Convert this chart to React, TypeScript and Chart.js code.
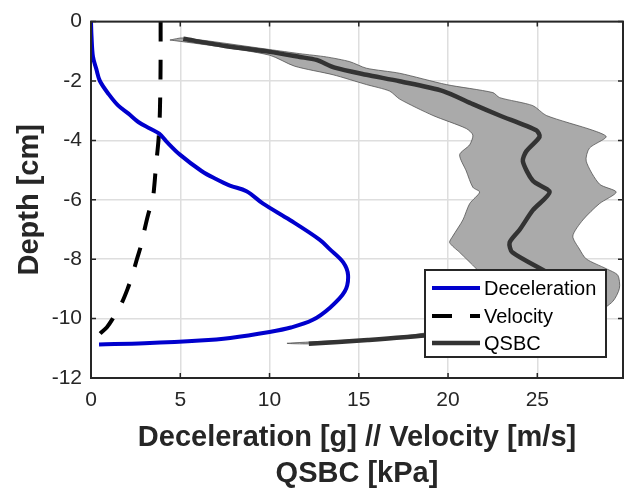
import React, { useEffect, useRef } from 'react';
import { Chart, registerables } from 'chart.js';

Chart.register(...registerables);

// ---- data (depth in cm, values on the shared x axis) ----
const decelDepth = [0, -0.5, -1.18, -1.6, -2.0, -2.45, -2.83, -3.1, -3.38, -3.6, -3.77, -4.04, -4.48, -5.03, -5.3, -5.52, -5.71, -6.13, -6.68, -7.34, -7.66, -8.1, -8.54, -9.09, -9.64, -10.05, -10.3, -10.45, -10.65, -10.74, -10.83, -10.87];
const decelValue = [0, 0.03, 0.11, 0.3, 0.5, 1.0, 1.53, 2.1, 2.65, 3.3, 3.82, 4.23, 4.98, 6.19, 7.0, 7.78, 8.71, 9.64, 11.14, 12.8, 13.37, 14.12, 14.4, 14.21, 13.37, 12.4, 11.2, 10.0, 7.8, 6.1, 3.0, 0.45];

const velDepth = [0, -1, -2, -3, -3.5, -4, -4.5, -5, -5.5, -6, -6.5, -7, -7.5, -8, -8.5, -9, -9.5, -10, -10.3, -10.5, -10.7, -10.85];
const velValue = [3.9, 3.9, 3.89, 3.86, 3.83, 3.78, 3.7, 3.62, 3.55, 3.45, 3.2, 3.0, 2.82, 2.57, 2.33, 2.05, 1.7, 1.22, 0.88, 0.52, 0.25, 0.0];

const qsbcDepth = [-0.58, -0.82, -1.02, -1.19, -1.29, -1.55, -1.79, -2.01, -2.34, -2.78, -3.16, -3.66, -3.88, -4.37, -4.7, -5.36, -5.74, -6.35, -7.01, -7.44, -7.77, -8.43, -8.9, -9.3, -9.7, -10.05, -10.35, -10.57, -10.72, -10.85];
const qsbcMean = [5.17, 7.5, 10.02, 11.7, 12.63, 13.65, 15.43, 17.29, 19.72, 21.39, 22.89, 24.94, 25.13, 24.38, 24.19, 24.75, 25.69, 24.75, 24.01, 23.45, 23.6, 25.5, 26.6, 26.8, 26.2, 24.5, 21.8, 18.7, 15.5, 12.2];

const upperDepth = [-0.62, -0.55, -0.94, -1.08, -1.19, -1.35, -1.57, -1.74, -2.12, -2.39, -2.56, -2.83, -3.16, -3.66, -3.88, -4.26, -4.7, -5.47, -5.74, -6.13, -6.68, -7.22, -7.66, -7.99, -8.32, -8.54, -8.98, -9.42, -9.8, -10.15, -10.45, -10.65, -10.85];
const upperValue = [4.42, 5.15, 10.0, 11.7, 13.19, 14.5, 15.43, 17.29, 19.9, 22.51, 22.89, 24.75, 25.5, 28.11, 28.86, 27.92, 27.74, 28.48, 29.42, 28.48, 27.55, 26.99, 27.36, 27.74, 28.86, 29.51, 29.6, 29.23, 28.3, 26.0, 22.0, 17.5, 12.3];

const lowerDepth = [-0.62, -0.83, -1.13, -1.5, -1.79, -2.12, -2.34, -2.61, -3.16, -3.6, -3.82, -4.15, -4.48, -5.03, -5.58, -5.74, -6.13, -6.68, -7.22, -7.44, -7.77, -8.32, -8.8, -9.3, -9.7, -10.1, -10.4, -10.65, -10.83];
const lowerValue = [4.42, 7.03, 10.0, 11.4, 13.56, 15.43, 16.73, 17.29, 19.15, 21.02, 21.39, 21.21, 20.65, 21.02, 21.39, 21.77, 21.21, 20.83, 20.27, 20.09, 20.65, 21.58, 22.3, 22.6, 22.0, 20.5, 19.5, 16.5, 11.0];

const xTicks = [0, 5, 10, 15, 20, 25];
const yTicks = [-12, -10, -8, -6, -4, -2, 0];
const legendLabels = ['Deceleration', 'Velocity', 'QSBC'];
const xTitle = ['Deceleration [g] // Velocity [m/s]', 'QSBC [kPa]'];
const yTitle = 'Depth [cm]';

const FONT = "'Liberation Sans', Arial, Helvetica, sans-serif";
const AXIS_COLOR = '#262626';
const BLUE = '#0000cd';
const MEAN_COLOR = '#333333';

const toPts = (vals: number[], depths: number[]) => vals.map((v, i) => ({ x: v, y: depths[i] }));

const framePlugin = {
  id: 'frameAndLegend',
  afterDatasetsDraw(chart: any) {
    const { ctx, chartArea: a, scales } = chart;
    const x = scales.x;
    const y = scales.y;
    ctx.save();
    ctx.strokeStyle = AXIS_COLOR;
    ctx.lineWidth = 1.5;
    ctx.beginPath();
    for (const v of xTicks) {
      const px = x.getPixelForValue(v);
      ctx.moveTo(px, a.bottom);
      ctx.lineTo(px, a.bottom - 5);
      ctx.moveTo(px, a.top);
      ctx.lineTo(px, a.top + 5);
    }
    for (const v of yTicks) {
      const py = y.getPixelForValue(v);
      ctx.moveTo(a.left, py);
      ctx.lineTo(a.left + 5, py);
      ctx.moveTo(a.right, py);
      ctx.lineTo(a.right - 5, py);
    }
    ctx.stroke();
    ctx.lineWidth = 2;
    ctx.strokeRect(a.left, a.top, a.right - a.left, a.bottom - a.top);
    ctx.restore();
  },
  afterDraw(chart: any) {
    const { ctx, chartArea: a } = chart;
    const w = 181;
    const h = 87;
    const left = a.right - 198;
    const top = a.bottom - 108;
    ctx.save();
    ctx.fillStyle = '#ffffff';
    ctx.fillRect(left, top, w, h);
    ctx.strokeStyle = AXIS_COLOR;
    ctx.lineWidth = 2;
    ctx.strokeRect(left, top, w, h);
    const rows = [18, 46, 73];
    chart.data.datasets.slice(0, 3).forEach((ds: any, i: number) => {
      const yy = top + rows[i];
      ctx.beginPath();
      ctx.strokeStyle = ds.borderColor;
      ctx.lineWidth = ds.borderWidth;
      ctx.setLineDash(ds.borderDash || []);
      ctx.lineCap = 'butt';
      ctx.moveTo(left + 7, yy);
      ctx.lineTo(left + 55, yy);
      ctx.stroke();
      ctx.setLineDash([]);
      ctx.fillStyle = '#000000';
      ctx.font = `20px ${FONT}`;
      ctx.textBaseline = 'middle';
      ctx.textAlign = 'left';
      ctx.fillText(legendLabels[i], left + 59, yy + 1);
    });
    ctx.restore();
  },
};

export default function App() {
  const ref = useRef<HTMLCanvasElement | null>(null);
  useEffect(() => {
    if (!ref.current) return;
    const bandPts = [
      ...toPts(upperValue, upperDepth),
      ...toPts(lowerValue, lowerDepth).reverse(),
    ];
    const chart = new Chart(ref.current, {
      type: 'scatter',
      data: {
        datasets: [
          {
            label: legendLabels[0],
            data: toPts(decelValue, decelDepth),
            showLine: true,
            borderColor: BLUE,
            backgroundColor: BLUE,
            borderWidth: 4,
            tension: 0.35,
            pointRadius: 0,
            fill: false,
          },
          {
            label: legendLabels[1],
            data: toPts(velValue, velDepth),
            showLine: true,
            borderColor: '#000000',
            backgroundColor: '#000000',
            borderWidth: 4,
            borderDash: [20, 18],
            tension: 0.35,
            pointRadius: 0,
            fill: false,
          },
          {
            label: legendLabels[2],
            data: toPts(qsbcMean, qsbcDepth),
            showLine: true,
            borderColor: MEAN_COLOR,
            backgroundColor: MEAN_COLOR,
            borderWidth: 4.5,
            tension: 0.25,
            pointRadius: 0,
            fill: false,
          },
          {
            label: 'band',
            data: bandPts,
            showLine: true,
            borderColor: 'rgba(70,70,70,0.9)',
            backgroundColor: '#aaaaaa',
            borderWidth: 0.8,
            tension: 0.25,
            pointRadius: 0,
            fill: 'shape',
          },
        ] as any,
      },
      options: {
        animation: false,
        responsive: false,
        maintainAspectRatio: false,
        events: [],
        layout: { padding: { top: 14, right: 4, bottom: 0, left: 0 } },
        plugins: {
          legend: { display: false },
          tooltip: { enabled: false },
        },
        scales: {
          x: {
            type: 'linear',
            min: 0,
            max: 29.8,
            afterBuildTicks: (s: any) => {
              s.ticks = xTicks.map((v) => ({ value: v }));
            },
            afterFit: (s: any) => {
              s.height = 114;
            },
            ticks: {
              font: { family: FONT, size: 21 },
              color: AXIS_COLOR,
              padding: 10,
              maxRotation: 0,
              callback: (v: any) => String(v),
            },
            grid: { color: '#dedede', lineWidth: 1.5, drawTicks: false },
            border: { display: false },
            title: {
              display: true,
              text: xTitle,
              font: { family: FONT, size: 29, weight: 'bold', lineHeight: 35.5 / 29 },
              color: AXIS_COLOR,
              padding: { top: 0, bottom: 0.75 },
            },
          },
          y: {
            type: 'linear',
            min: -12,
            max: 0,
            afterBuildTicks: (s: any) => {
              s.ticks = yTicks.map((v) => ({ value: v }));
            },
            afterFit: (s: any) => {
              s.width = 91;
            },
            ticks: {
              font: { family: FONT, size: 21 },
              color: AXIS_COLOR,
              padding: 9,
              callback: (v: any) => String(v),
            },
            grid: { color: '#dedede', lineWidth: 1.5, drawTicks: false },
            border: { display: false },
            title: {
              display: true,
              text: yTitle,
              font: { family: FONT, size: 29, weight: 'bold', lineHeight: 34 / 29 },
              color: AXIS_COLOR,
              padding: { top: 13, bottom: 0 },
            },
          },
        },
      } as any,
      plugins: [framePlugin],
    });
    return () => chart.destroy();
  }, []);

  return (
    <div style={{ position: 'fixed', left: 0, top: 0, width: 627, height: 492, background: '#ffffff' }}>
      <canvas ref={ref} width={627} height={492} />
    </div>
  );
}
